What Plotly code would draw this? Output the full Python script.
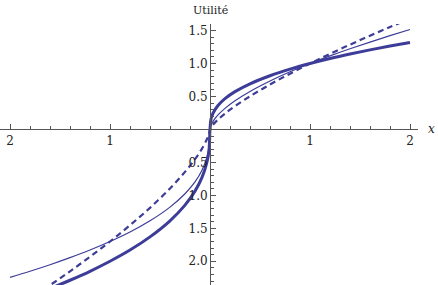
import plotly.graph_objects as go

# sampled x positions
xs = [-2.0, -1.8, -1.6, -1.4, -1.2, -1.0, -0.8, -0.6, -0.4, -0.25, -0.15, -0.08, -0.03, -0.01, 0.0,
      0.01, 0.03, 0.08, 0.15, 0.25, 0.4, 0.6, 0.8, 1.0, 1.2, 1.4, 1.6, 1.8, 2.0]

# thick solid curve
thick = [-2.64, -2.53, -2.414, -2.288, -2.152, -2.0, -1.83, -1.63, -1.386, -1.148, -0.936, -0.728, -0.492, -0.316, 0.0,
         0.158, 0.246, 0.364, 0.468, 0.574, 0.693, 0.815, 0.915, 1.0, 1.076, 1.144, 1.207, 1.265, 1.320]

# thin solid curve
thin = [-2.244, -2.151, -2.052, -1.945, -1.829, -1.7, -1.556, -1.386, -1.178, -0.976, -0.796, -0.619, -0.418, -0.269, 0.0,
        0.063, 0.122, 0.220, 0.320, 0.435, 0.577, 0.736, 0.875, 1.0, 1.116, 1.224, 1.326, 1.423, 1.516]

# dashed curve
dashed = [-2.762, -2.565, -2.363, -2.152, -1.931, -1.7, -1.453, -1.189, -0.896, -0.644, -0.451, -0.291, -0.146, -0.068, 0.0,
          0.032, 0.072, 0.150, 0.241, 0.354, 0.503, 0.682, 0.846, 1.0, 1.147, 1.287, 1.423, 1.554, 1.682]

x_tickvals = [-2, -1, 1, 2]
x_ticktext = ["2", "1", "1", "2"]
y_tickvals = [-2.0, -1.5, -1.0, -0.5, 0.5, 1.0, 1.5]
y_ticktext = ["2.0", "1.5", "1.0", "0.5", "0.5", "1.0", "1.5"]

W, H = 438, 285
xr = [-2.1, 2.08]
yr = [-2.36, 1.6]
xdom = [0, 418 / W]
ydom = [0, 261 / H]

col = "#3d3d99"
fig = go.Figure()
fig.add_trace(go.Scatter(x=xs, y=thin, mode="lines", line=dict(color=col, width=1.2, shape="spline")))
fig.add_trace(go.Scatter(x=xs, y=dashed, mode="lines", line=dict(color=col, width=2.2, dash="6px,4px", shape="spline")))
fig.add_trace(go.Scatter(x=xs, y=thick, mode="lines", line=dict(color=col, width=3, shape="spline")))

xpos = ydom[0] + (ydom[1] - ydom[0]) * (0 - yr[0]) / (yr[1] - yr[0])
ypos = xdom[0] + (xdom[1] - xdom[0]) * (0 - xr[0]) / (xr[1] - xr[0])

fam = "DejaVu Serif"
font = dict(family=fam, size=12, color="#222")
axcol = "#555"
fig.update_layout(
    width=W, height=H, margin=dict(l=0, r=0, t=0, b=0),
    plot_bgcolor="white", paper_bgcolor="white", showlegend=False,
    font=font,
    xaxis=dict(range=xr, domain=xdom, anchor="free", position=xpos, showgrid=False, zeroline=False,
               showline=True, linecolor=axcol, linewidth=1, ticks="inside", ticklen=5, tickcolor=axcol,
               tickvals=x_tickvals, ticktext=x_ticktext, tickfont=font,
               minor=dict(dtick=0.2, tick0=0, ticks="inside", ticklen=3, tickcolor=axcol, showgrid=False)),
    yaxis=dict(range=yr, domain=ydom, anchor="free", position=ypos, showgrid=False, zeroline=False,
               showline=True, linecolor=axcol, linewidth=1, ticks="inside", ticklen=5, tickcolor=axcol,
               tickvals=y_tickvals, ticktext=y_ticktext, tickfont=font,
               minor=dict(dtick=0.1, tick0=0, ticks="inside", ticklen=3, tickcolor=axcol, showgrid=False)),
    annotations=[
        dict(text="Utilité", xref="paper", yref="paper", x=ypos, y=1 - 10 / H, showarrow=False,
             font=dict(family=fam, size=11, color="#222"), xanchor="center", yanchor="middle"),
        dict(text="<i>x</i>", xref="paper", yref="paper", x=431 / W, y=xpos, showarrow=False,
             font=dict(family=fam, size=12, color="#222"), xanchor="center", yanchor="middle"),
    ],
)
fig.write_html("out.html")
